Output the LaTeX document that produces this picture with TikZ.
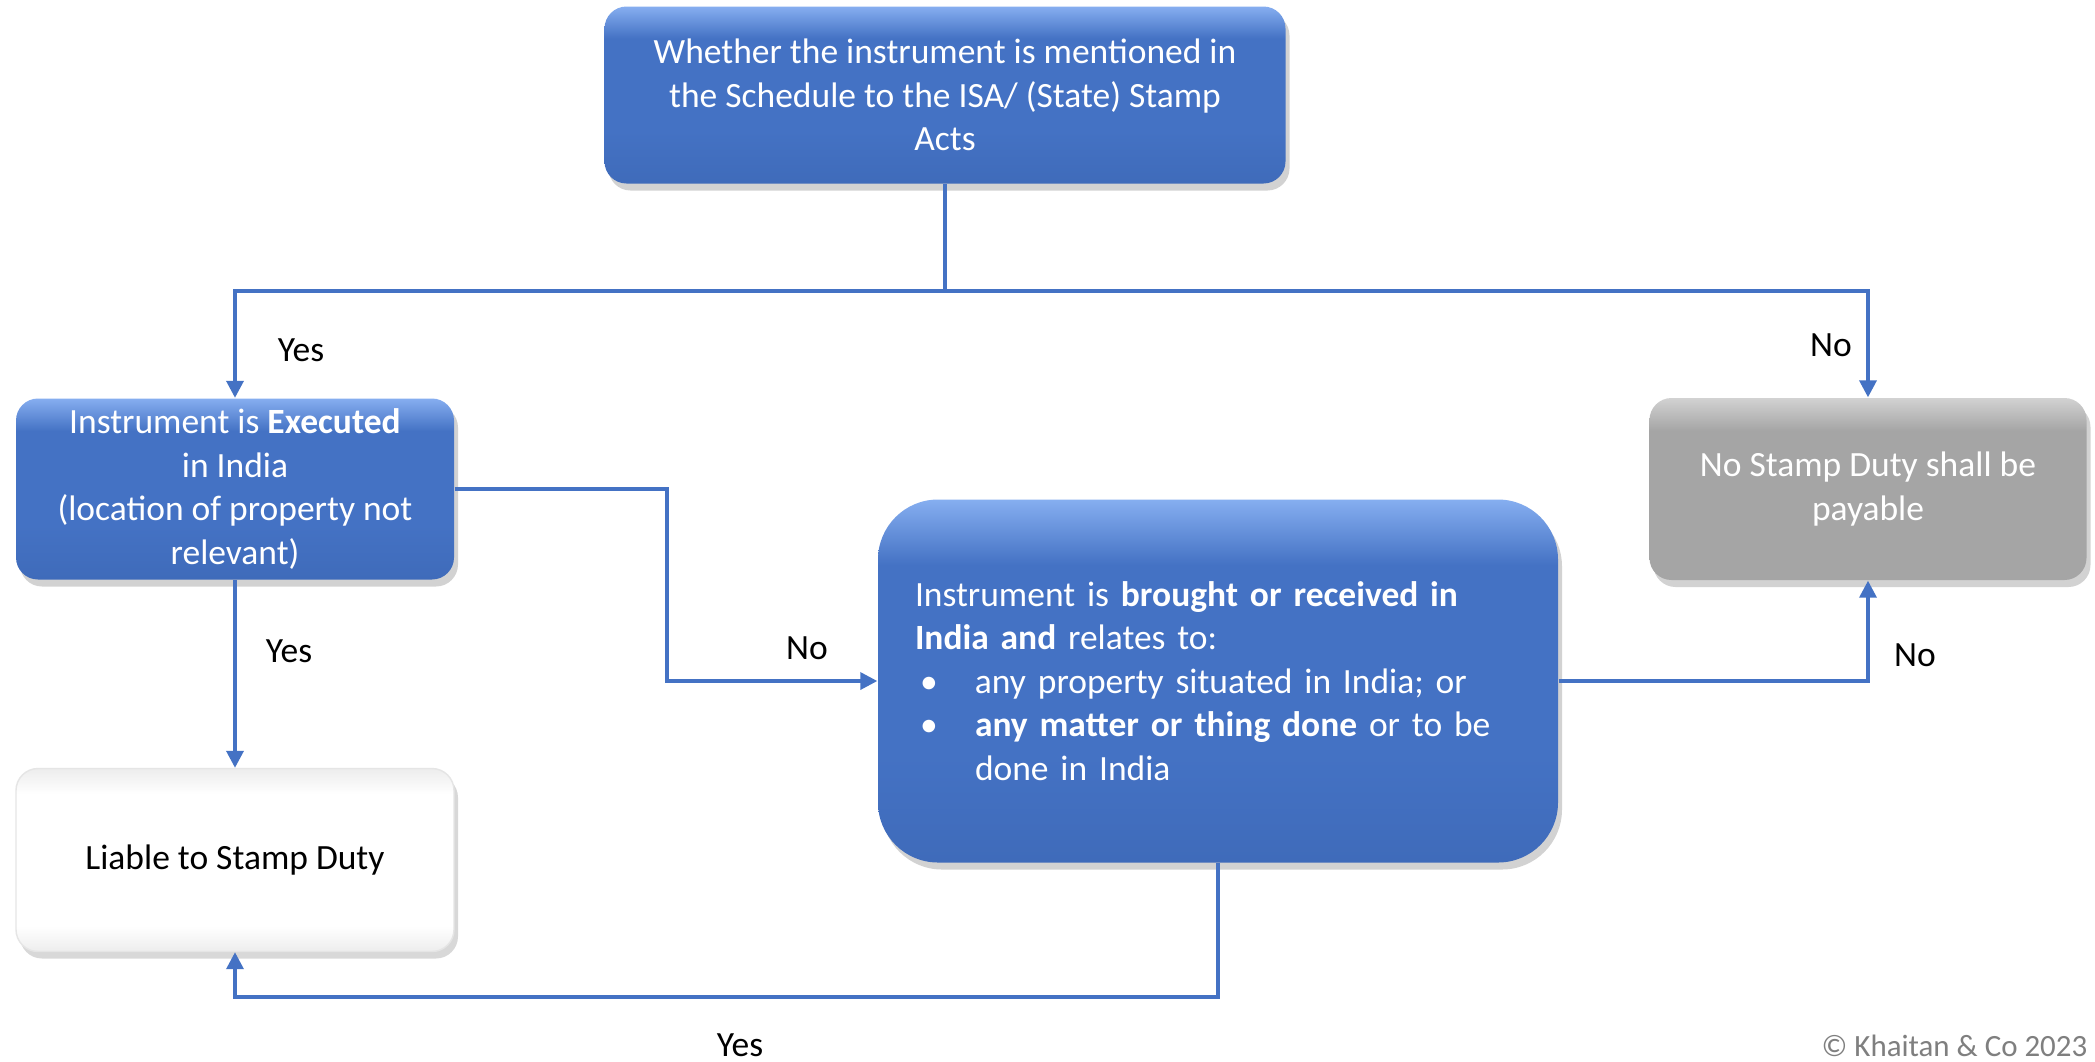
\documentclass[tikz,border=0pt]{standalone}
\usepackage{fontspec}
\setmainfont{Carlito}
\usepackage{tikz}
\usetikzlibrary{arrows.meta}
\usetikzlibrary{shadows}
\usetikzlibrary{positioning}

\definecolor{boxblue}{HTML}{4472C4}
\definecolor{boxtop}{HTML}{86AEF0}
\definecolor{boxbottom}{HTML}{3F6BBA}
\definecolor{boxgrey}{HTML}{A5A5A5}
\definecolor{greytop}{HTML}{D2D2D2}
\definecolor{whiteedge}{HTML}{EDEDED}
\definecolor{notegrey}{HTML}{7F7F7F}

\pgfdeclareverticalshading{bluefill}{100bp}{color(0bp)=(boxbottom); color(25bp)=(boxbottom); color(40bp)=(boxblue); color(66bp)=(boxblue); color(75bp)=(boxtop); color(100bp)=(boxtop)}
\pgfdeclareverticalshading{greyfill}{100bp}{color(0bp)=(boxgrey); color(25bp)=(boxgrey); color(66bp)=(boxgrey); color(75bp)=(greytop); color(100bp)=(greytop)}
\pgfdeclareverticalshading{whitefill}{100bp}{color(0bp)=(whiteedge); color(25bp)=(whiteedge); color(32bp)=(white); color(68bp)=(white); color(75bp)=(whiteedge); color(100bp)=(whiteedge)}

\tikzset{
  bluebox/.style={rounded corners=0.22cm, shading=bluefill,
    drop shadow={opacity=0.35, shadow xshift=0.04cm, shadow yshift=-0.07cm}, text=white, inner sep=0pt},
  greybox/.style={rounded corners=0.22cm, shading=greyfill,
    drop shadow={opacity=0.35, shadow xshift=0.04cm, shadow yshift=-0.07cm}, text=white, inner sep=0pt},
  whitebox/.style={rounded corners=0.22cm, shading=whitefill, draw=black!10,
    drop shadow={opacity=0.3, shadow xshift=0.04cm, shadow yshift=-0.07cm}, inner sep=0pt},
  flow/.style={draw=boxblue, line width=1pt, -{Triangle[width=0.17cm,length=0.17cm]}},
  lbl/.style={inner sep=0pt}
}

\begin{document}
\begin{tikzpicture}[font=\fontsize{10.1}{12.35}\selectfont]
\fill [white] (0,0) rectangle (20.95,-10.61);
\useasboundingbox (0,0) rectangle (20.95,-10.61);

% boxes
\node [bluebox, minimum width=6.81cm, minimum height=1.77cm, align=center] (sched) at (9.45,-0.95)
  {Whether the instrument is mentioned in\\the Schedule to the ISA/ (State) Stamp\\Acts};
\node [bluebox, minimum width=4.38cm, minimum height=1.81cm, align=center] (exec) at (2.35,-4.89)
  {Instrument is \textbf{Executed}\\in India\\(location of property not\\relevant)};
\node [whitebox, minimum width=4.38cm, minimum height=1.83cm, align=center] (liable) at (2.35,-8.60)
  {Liable to Stamp Duty};
\node [bluebox, rounded corners=0.6cm, minimum width=6.80cm, minimum height=3.63cm, text width=6.06cm, align=left] (brought) at (12.18,-6.81)
  {Instrument is \textbf{brought or received in}\\
   \textbf{India and} relates to:\\
   \hspace*{0.05cm}\makebox[0.55cm][l]{\textbullet}any property situated in India; or\\
   \hspace*{0.05cm}\makebox[0.55cm][l]{\textbullet}\textbf{any matter or thing done} or to be\\
   \hspace*{0.60cm}done in India};
\node [greybox, minimum width=4.37cm, minimum height=1.82cm, align=center] (nostamp) at (18.68,-4.89)
  {No Stamp Duty shall be\\payable};

% turning points
\coordinate (split) at (9.45,-2.91);
\coordinate (noturn) at (6.67,-4.89);
\coordinate (back) at (12.18,-9.97);

% connectors
\draw [boxblue, line width=1pt] (sched.south) -- (split);
\draw [flow] (split) -| (exec.north);
\draw [flow] (split) -| (nostamp.north);
\draw [flow] (exec.south) -- (liable.north);
\draw [flow] (exec.east) -- (noturn) |- (brought.west);
\draw [flow] (brought.east) -| (nostamp.south);
\draw [flow] (brought.south) -- (back) -| (liable.south);

% labels
\node [lbl] (yes1) at (3.01,-3.50) {Yes};
\node [lbl] (no1) at (18.31,-3.45) {No};
\node [lbl] (yes2) at (2.89,-6.51) {Yes};
\node [lbl] (no2) at (8.07,-6.48) {No};
\node [lbl] (no3) at (19.15,-6.55) {No};
\node [lbl] (yes3) at (7.40,-10.45) {Yes};
\node [lbl, anchor=east, text=notegrey, font=\fontsize{8.8}{10}\selectfont] (copy) at (20.88,-10.46) {© Khaitan \& Co 2023};
\end{tikzpicture}
\end{document}
